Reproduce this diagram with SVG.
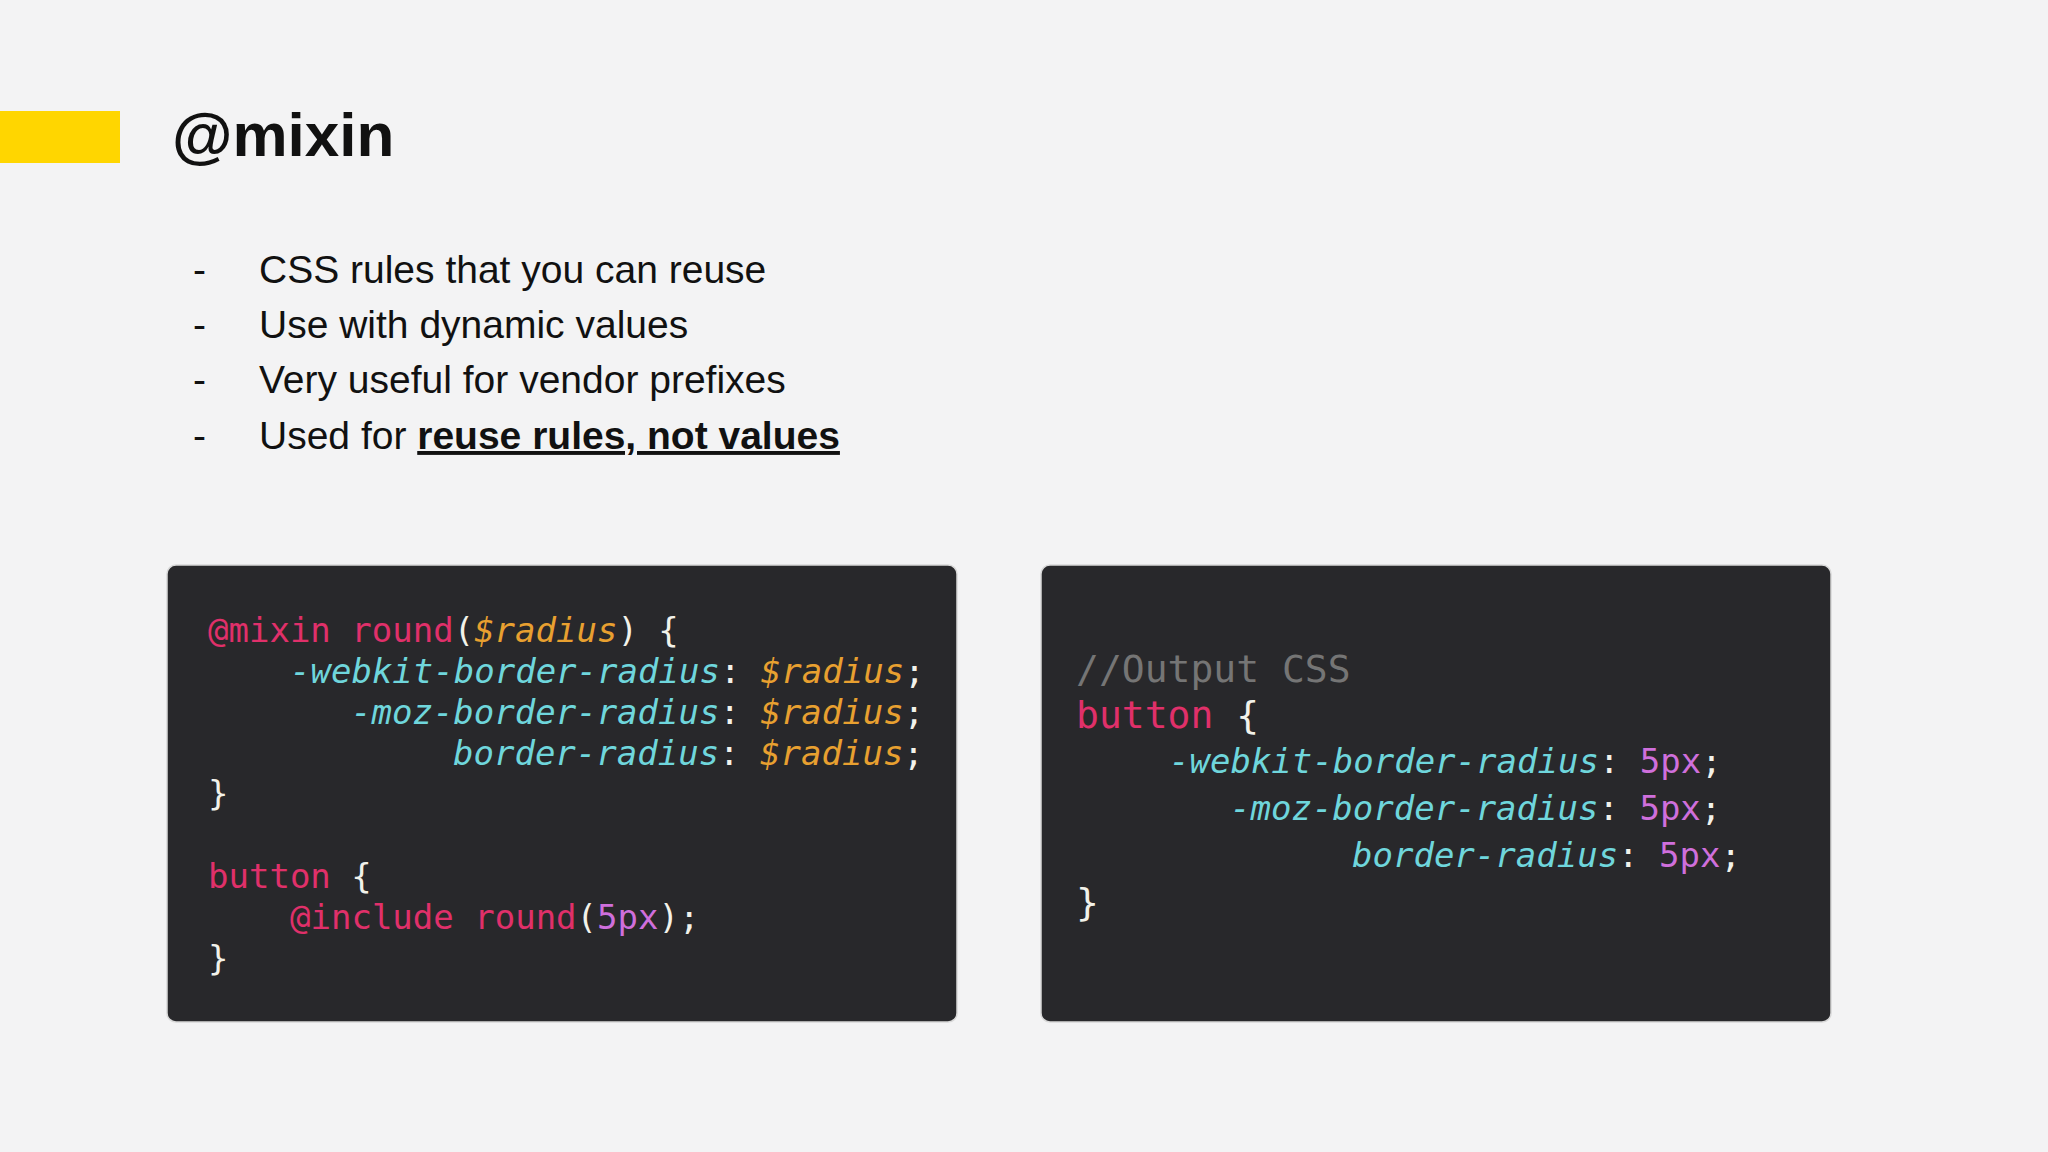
<svg xmlns="http://www.w3.org/2000/svg" width="2048" height="1152" viewBox="0 0 2048 1152">
<style>
.t{font-family:"Liberation Sans",Arial,sans-serif;fill:#111}
.b{font-size:39px}
.c{font-family:"DejaVu Sans Mono","Liberation Mono",monospace;font-size:34px}
.p{fill:#e0306a}.w{fill:#f2f2ea}.cy{fill:#6fd6dc;font-style:italic}.o{fill:#e8a030;font-style:italic}.pu{fill:#cf6fdc}.g{fill:#757575}
.box{fill:#28282b}
</style>
<rect width="2048" height="1152" fill="#f3f3f4"/>
<rect x="0" y="111" width="120" height="52" fill="#ffd600"/>
<text class="t" x="172" y="156" font-size="62" font-weight="bold">@mixin</text>
<g id="bullets" class="t b">
<text x="193" y="283">-</text><text x="259" y="283">CSS rules that you can reuse</text>
<text x="193" y="338">-</text><text x="259" y="338">Use with dynamic values</text>
<text x="193" y="393">-</text><text x="259" y="393">Very useful for vendor prefixes</text>
<text x="193" y="449">-</text><text x="259" y="449">Used for <tspan font-weight="bold" text-decoration="underline">reuse rules, not values</tspan></text>
</g>
<g id="code-left">
<rect class="box" x="167" y="565" width="790" height="457" rx="9" stroke="#d8d8d8" stroke-width="1.5"/>
<g class="c">
<text x="208" y="642"><tspan class="p">@mixin round</tspan><tspan class="w">(</tspan><tspan class="o">$radius</tspan><tspan class="w">) {</tspan></text>
<text x="290" y="683"><tspan class="cy">-webkit-border-radius</tspan><tspan class="w">: </tspan><tspan class="o">$radius</tspan><tspan class="w">;</tspan></text>
<text x="351" y="724"><tspan class="cy">-moz-border-radius</tspan><tspan class="w">: </tspan><tspan class="o">$radius</tspan><tspan class="w">;</tspan></text>
<text x="453" y="765"><tspan class="cy">border-radius</tspan><tspan class="w">: </tspan><tspan class="o">$radius</tspan><tspan class="w">;</tspan></text>
<text x="208" y="805" class="w">}</text>
<text x="208" y="888"><tspan class="p">button</tspan><tspan class="w"> {</tspan></text>
<text x="290" y="929"><tspan class="p">@include round</tspan><tspan class="w">(</tspan><tspan class="pu">5px</tspan><tspan class="w">);</tspan></text>
<text x="208" y="970" class="w">}</text>
</g>
</g>
<g id="code-right">
<rect class="box" x="1041" y="565" width="790" height="457" rx="9" stroke="#d8d8d8" stroke-width="1.5"/>
<g class="c">
<text x="1076" y="682" class="g" font-size="38">//Output CSS</text>
<text x="1076" y="728" font-size="38"><tspan class="p">button</tspan><tspan class="w"> {</tspan></text>
<text x="1169" y="773"><tspan class="cy">-webkit-border-radius</tspan><tspan class="w">: </tspan><tspan class="pu">5px</tspan><tspan class="w">;</tspan></text>
<text x="1230" y="820"><tspan class="cy">-moz-border-radius</tspan><tspan class="w">: </tspan><tspan class="pu">5px</tspan><tspan class="w">;</tspan></text>
<text x="1352" y="867"><tspan class="cy">border-radius</tspan><tspan class="w">: </tspan><tspan class="pu">5px</tspan><tspan class="w">;</tspan></text>
<text x="1076" y="915" class="w" font-size="38">}</text>
</g>
</g>
<g id="connectors"/>
</svg>
